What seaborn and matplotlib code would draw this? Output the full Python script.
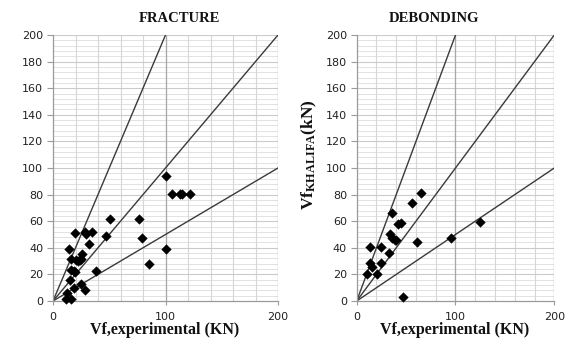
import numpy as np
import pandas as pd
import matplotlib
matplotlib.use("Agg")
import matplotlib.pyplot as plt
import seaborn as sns

# ---- data ----
fracture_exp = [100, 106, 112.5, 115, 122, 50.5, 76.5, 79, 100, 85, 47.5,
                35, 28, 29.7, 32, 19.3, 14.2, 38.5, 25.8, 25.2, 23.7, 22.2,
                20.8, 16.4, 16.4, 18.4, 19.3, 15.5, 18.4, 24.6, 28.2, 12.5,
                11.3, 16.3]
fracture_pred = [94, 80.5, 80.5, 80.5, 80.5, 62, 62, 47, 39, 28, 49,
                 52, 52, 50.4, 42.6, 51, 39, 22.8, 35, 31.8, 31, 30,
                 31, 31.6, 23, 22.8, 22, 16, 9.8, 12.8, 8.3, 5.8,
                 1.5, 1.5]

debond_exp = [10.1, 13.5, 13.5, 15.2, 20.9, 24.3, 24.3, 32.4, 33.7, 36.1,
              36, 38.5, 39.5, 42, 45, 55.6, 60.7, 64.8, 95.8, 124.8, 47.2]
debond_pred = [20.3, 40.9, 28.3, 25.3, 20.3, 40.9, 28.3, 36.3, 50.4, 66.4,
               47.5, 46, 46, 58, 59, 74, 44.4, 81, 47, 59.6, 2.8]

slopes = [2.0, 1.0, 0.5]
panel_titles = ["FRACTURE", "DEBONDING"]
x_label = "Vf,experimental (KN)"
y_label = r"$\mathrm{Vf}_{\mathrm{KHALIFA}}\mathrm{(kN)}$"
x_ticks = [0, 100, 200]
y_ticks = list(range(0, 201, 20))

sns.set_theme(style="white")
plt.rcParams["font.family"] = ["DejaVu Sans"]
plt.rcParams["mathtext.fontset"] = "custom"
plt.rcParams["mathtext.rm"] = "Liberation Serif:bold"
plt.rcParams["mathtext.it"] = "Liberation Serif:bold"
plt.rcParams["mathtext.bf"] = "Liberation Serif:bold"

fig = plt.figure(figsize=(5.7, 3.4), dpi=100)
ax1 = fig.add_axes([53 / 570, 39 / 340, 225 / 570, 266 / 340])
ax2 = fig.add_axes([356.7 / 570, 39 / 340, 197.6 / 570, 266 / 340])

dfs = [pd.DataFrame({"exp": fracture_exp, "pred": fracture_pred}),
       pd.DataFrame({"exp": debond_exp, "pred": debond_pred})]

serif = dict(family="Liberation Serif", weight="bold", color="#111111")

for ax, df in zip([ax1, ax2], dfs):
    ax.set_xlim(0, 200)
    ax.set_ylim(0, 200)
    ax.set_xticks(x_ticks)
    ax.set_yticks(y_ticks)
    ax.grid(False)
    # gridlines (minor first, then major)
    ax.hlines(np.arange(4, 201, 4), 0, 200, colors="#e2e2e2", lw=0.7, zorder=0)
    ax.vlines(np.arange(20, 201, 20), 0, 200, colors="#d6d6d6", lw=0.8, zorder=0.5)
    ax.hlines(np.arange(20, 201, 20), 0, 200, colors="#cbcbcb", lw=0.8, zorder=0.6)
    ax.vlines([100, 200], 0, 200, colors="#a8a8a8", lw=0.9, zorder=0.7)
    for s in ["top", "right"]:
        ax.spines[s].set_visible(False)
    for s in ["left", "bottom"]:
        ax.spines[s].set_color("#9a9a9a")
        ax.spines[s].set_linewidth(0.9)
    ax.tick_params(axis="y", which="major", length=4, width=0.8, color="#9a9a9a",
                   labelsize=8, labelcolor="#222222", pad=3, left=True)
    ax.tick_params(axis="x", which="major", length=3, width=0.8, color="#9a9a9a",
                   labelsize=8, labelcolor="#222222", pad=5, bottom=True)
    for sl in slopes:
        ax.axline((0, 0), slope=sl, color="#3a3a3a", lw=1.0, zorder=2)
    sns.scatterplot(data=df, x="exp", y="pred", ax=ax, marker="D", s=24,
                    color="black", edgecolor="black", linewidth=0.3, zorder=3,
                    clip_on=False)
    ax.set_xlabel("")
    ax.set_ylabel("")

fig.text(179 / 570, 1 - 18 / 340, panel_titles[0], ha="center", va="center",
         fontsize=10.5, **serif)
fig.text(433.6 / 570, 1 - 18 / 340, panel_titles[1], ha="center", va="center",
         fontsize=10.5, **serif)
fig.text(165 / 570, 1 - 330 / 340, x_label, ha="center", va="center",
         fontsize=11.5, **serif)
fig.text(455 / 570, 1 - 330 / 340, x_label, ha="center", va="center",
         fontsize=11.5, **serif)
fig.text(309 / 570, 1 - 155 / 340, y_label, ha="center", va="center",
         rotation=90, fontsize=12.5, color="#111111")

fig.savefig("out.png", dpi=100)
